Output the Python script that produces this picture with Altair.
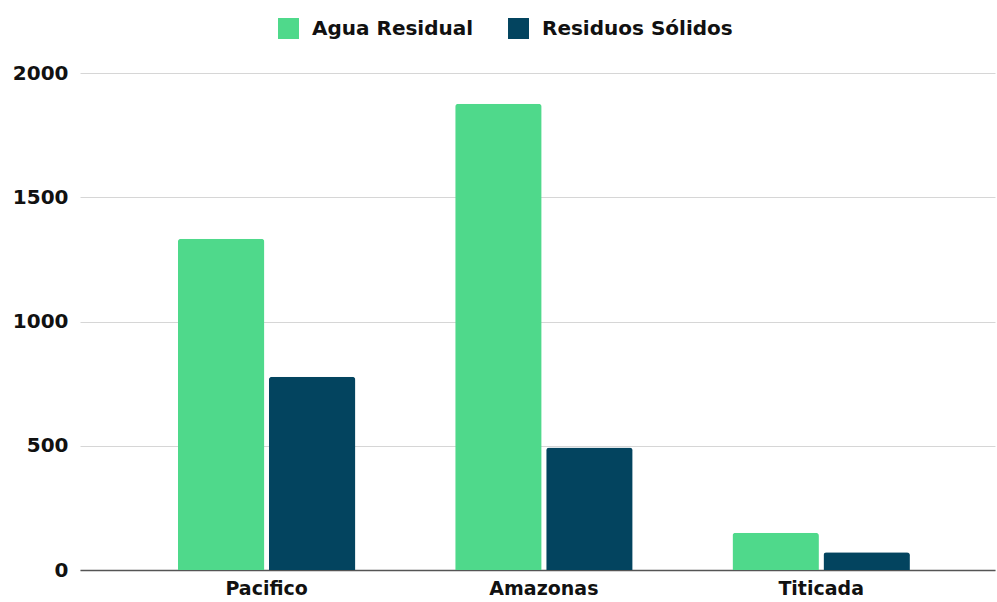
import altair as alt
import pandas as pd

# Regions and their two waste categories
regiones = ["Pacifico", "Amazonas", "Titicada"]
agua_residual = [1333, 1876, 150]
residuos_solidos = [778, 493, 71]
series = ["Agua Residual", "Residuos Sólidos"]
colores = ["#4fd98b", "#03445f"]

rows = []
for i, r in enumerate(regiones):
    rows.append({"region": r, "serie": series[0], "valor": agua_residual[i]})
    rows.append({"region": r, "serie": series[1], "valor": residuos_solidos[i]})
df = pd.DataFrame(rows)

FONT = "DejaVu Sans"
SIZE = 20

bars = alt.Chart(df).mark_bar(
    cornerRadiusTopLeft=3, cornerRadiusTopRight=3
).encode(
    x=alt.X("region:N", sort=regiones, title=None,
            scale=alt.Scale(paddingInner=0.36, paddingOuter=0.33, align=0.535),
            axis=alt.Axis(labelAngle=0, labelFontSize=19, labelFontWeight="bold",
                          labelFont=FONT, labelColor="#111", labelPadding=9,
                          ticks=False, domainColor="#555", domainWidth=1.5)),
    xOffset=alt.XOffset("serie:N", sort=series,
                        scale=alt.Scale(paddingInner=0.05, paddingOuter=0)),
    y=alt.Y("valor:Q", title=None,
            scale=alt.Scale(domain=[0, 2000]),
            axis=alt.Axis(values=[0, 500, 1000, 1500, 2000], format="d",
                          labelFontSize=SIZE, labelFontWeight="bold",
                          labelFont=FONT, labelColor="#111",
                          ticks=False, domain=False, gridColor="#d6d6d6",
                          labelPadding=12)),
    color=alt.Color("serie:N", sort=series,
                    scale=alt.Scale(domain=series, range=colores),
                    legend=alt.Legend(title=None, orient="none", legendX=198,
                                      legendY=-55, direction="horizontal",
                                      symbolType="square", symbolSize=440,
                                      symbolStrokeWidth=0, labelFontSize=SIZE,
                                      labelFontWeight="bold", labelFont=FONT,
                                      labelColor="#111", columnPadding=34,
                                      labelOffset=13, labelLimit=400, padding=0)),
)

chart = bars.properties(
    width=915, height=497,
    autosize=alt.AutoSizeParams(type="none"),
    padding={"left": 80, "top": 73, "right": 2, "bottom": 32},
    background="white",
).configure_view(stroke=None)

chart.save("out.html", embed_options={"renderer": "svg", "actions": False})
